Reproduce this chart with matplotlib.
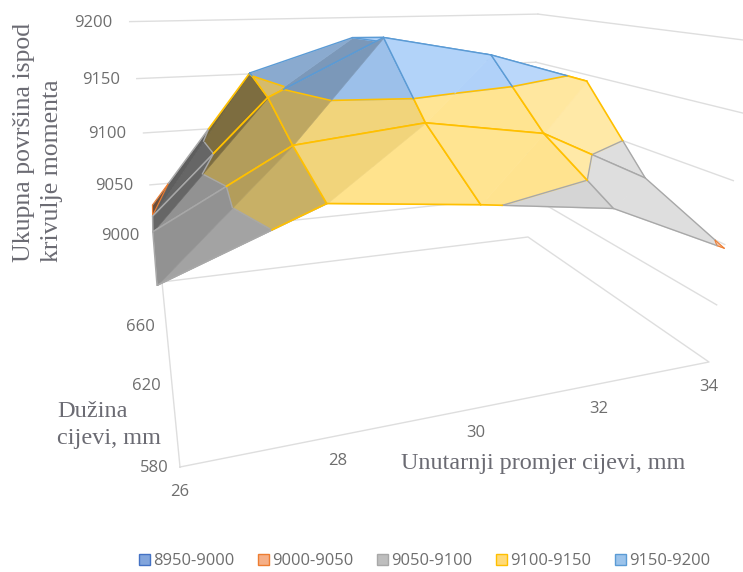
import numpy as np
import matplotlib
matplotlib.use("Agg")
import matplotlib.pyplot as plt
from matplotlib.patches import Patch
from mpl_toolkits.mplot3d.art3d import Poly3DCollection

diameters = [26, 28, 30, 32, 34]
lengths = [580, 620, 660, 700]
surface = [
    [9074, 9113, 9102, 9089, 9047],
    [9072, 9126, 9136, 9121, 9075],
    [9051, 9144, 9190, 9172, 9144],
    [9030, 9151, 9181, 9165, 9140],
]
levels = [8950, 9000, 9050, 9100, 9150, 9200]
band_labels = ["8950-9000", "9000-9050", "9050-9100", "9100-9150", "9150-9200"]
band_lines = ["#4472C4", "#ED7D31", "#A8A8A8", "#FFC000", "#5B9BD5"]
band_widths = [1.0, 0.8, 1.0, 1.2, 1.0]
band_fills = [(140, 170, 220), (240, 170, 130), (208, 208, 208), (255, 224, 130), (165, 203, 248)]
legend_fills = [(130, 165, 220), (245, 175, 135), (190, 190, 190), (255, 218, 120), (155, 195, 235)]
z_ticks = [9000, 9050, 9100, 9150, 9200]
x_ticks = [26, 28, 30, 32, 34]
y_ticks = [580, 620, 660]

W_PX, H_PX = 743, 572
GRID = "#DEDEDE"
TICK = "#6E6E6E"
TITLE = "#6B6B73"
tick_font = "Open Sans"
title_font = "Liberation Serif"

fig = plt.figure(figsize=(W_PX / 100, H_PX / 100), dpi=100)
ax = fig.add_axes([0, 0, 1, 1], projection="3d", computed_zorder=False)
ax.set_axis_off()

# camera: floor corners on the page and the vanishing point of the vertical axis
A, B, C, D = (180, 467), (709, 362), (528, 237), (162, 282)
VP = (430, 2441)
S = -0.17
dx1, dx2, sx = B[0] - C[0], D[0] - C[0], A[0] - B[0] + C[0] - D[0]
dy1, dy2, sy = B[1] - C[1], D[1] - C[1], A[1] - B[1] + C[1] - D[1]
det = dx1 * dy2 - dx2 * dy1
g = (sx * dy2 - dx2 * sy) / det
h = (dx1 * sy - sx * dy1) / det
CAM = np.array([
    [B[0] * (1 + g) - A[0], D[0] * (1 + h) - A[0], S * VP[0], A[0]],
    [B[1] * (1 + g) - A[1], D[1] * (1 + h) - A[1], S * VP[1], A[1]],
    [0, 1, 0, -2],
    [g, h, S, 1],
], dtype=float)
x0, x1 = diameters[0], diameters[-1]
y0, y1 = lengths[0], lengths[-1]
z0, z1 = levels[0], levels[-1]
UNIT = np.array([
    [1 / (x1 - x0), 0, 0, -x0 / (x1 - x0)],
    [0, 1 / (y1 - y0), 0, -y0 / (y1 - y0)],
    [0, 0, 1 / (z1 - z0), -z0 / (z1 - z0)],
    [0, 0, 0, 1],
])


def page_proj():
    vx0, vx1 = ax.viewLim.intervalx
    vy0, vy1 = ax.viewLim.intervaly
    page = np.array([
        [(vx1 - vx0) / W_PX, 0, 0, vx0],
        [0, -(vy1 - vy0) / H_PX, 0, vy1],
        [0, 0, 1, 0],
        [0, 0, 0, 1],
    ])
    return page @ CAM @ UNIT


def page_xy(x, y, z):
    v = CAM @ UNIT @ np.array([x, y, z, 1.0])
    return v[0] / v[3], v[1] / v[3]


ax.get_proj = page_proj
ax.apply_aspect = lambda position=None: None
ax.set_xlim(x0, x1)
ax.set_ylim(y0, y1)
ax.set_zlim(z0, z1)

# walls and floor
for z in z_ticks:
    ax.plot([x0, x1], [y1, y1], [z, z], color=GRID, lw=1.0, zorder=1)
    ax.plot([x1, x1], [y1, y0], [z, z], color=GRID, lw=1.0, zorder=1)
ax.plot([x0, x1, x1, x0, x0], [y0, y0, y1, y1, y0], [z0] * 5, color=GRID, lw=1.0, zorder=1)


def clip(poly, level, keep_above):
    out = []
    for i, p in enumerate(poly):
        q = poly[(i + 1) % len(poly)]
        a = p[2] - level if keep_above else level - p[2]
        b = q[2] - level if keep_above else level - q[2]
        if a >= 0:
            out.append(p)
        if a * b < 0:
            t = a / (a - b)
            out.append(tuple(p[k] + t * (q[k] - p[k]) for k in range(3)))
    return out


def shaded(rgb, slope):
    b = float(np.clip(1 - 0.0055 * slope, 0.45, 1.2))
    c = np.array(rgb) / 255
    return tuple(c * b) if b < 1 else tuple(c + (1 - c) * (b - 1) * 1.5)


def draw_edge(p, q, order):
    for k in range(len(levels) - 1):
        lo, hi = levels[k], levels[k + 1]
        a, b = (p, q) if p[2] <= q[2] else (q, p)
        if b[2] <= lo or a[2] >= hi:
            continue
        ends = []
        for lev in (max(lo, a[2]), min(hi, b[2])):
            t = 0 if b[2] == a[2] else (lev - a[2]) / (b[2] - a[2])
            ends.append([a[m] + t * (b[m] - a[m]) for m in range(3)])
        xs, ys, zs = zip(*ends)
        ax.plot(xs, ys, zs, color=band_lines[k], lw=band_widths[k], zorder=order, solid_capstyle="round")


order = 10
for j in range(len(lengths) - 2, -1, -1):
    for i in range(len(diameters) - 1):
        def P(ii, jj):
            return (diameters[ii], lengths[jj], surface[jj][ii])
        tris = [
            ([P(i, j), P(i + 1, j), P(i + 1, j + 1)], surface[j][i + 1] - surface[j][i]),
            ([P(i, j), P(i + 1, j + 1), P(i, j + 1)], surface[j + 1][i + 1] - surface[j + 1][i]),
        ]
        for tri, slope in tris:
            for k in range(len(levels) - 1):
                poly = clip(clip(tri, levels[k], True), levels[k + 1], False)
                if len(poly) < 3:
                    continue
                col = shaded(band_fills[k], slope)
                pc = Poly3DCollection([poly], facecolors=[col], edgecolors=[col], linewidths=0.4)
                pc.set_zorder(order)
                ax.add_collection3d(pc, autolim=False)
                order += 1
            for k in range(1, len(levels) - 1):
                lev = levels[k]
                seg = []
                for m in range(3):
                    p, q = tri[m], tri[(m + 1) % 3]
                    if (p[2] - lev) * (q[2] - lev) < 0:
                        t = (lev - p[2]) / (q[2] - p[2])
                        seg.append([p[n] + t * (q[n] - p[n]) for n in range(3)])
                if len(seg) == 2:
                    xs, ys, zs = zip(*seg)
                    ax.plot(xs, ys, zs, color=band_lines[k - 1], lw=band_widths[k - 1], zorder=order)
                    order += 1
        for p, q in [(P(i, j), P(i + 1, j)), (P(i + 1, j), P(i + 1, j + 1)),
                     (P(i + 1, j + 1), P(i, j + 1)), (P(i, j + 1), P(i, j))]:
            draw_edge(p, q, order)
            order += 1


def tick_label(x, y, z, text, dx, dy, ha):
    px, py = page_xy(x, y, z)
    fig.text((px + dx) / W_PX, 1 - (py + dy) / H_PX, text, color=TICK, fontsize=12,
             family=tick_font, ha=ha, va="center")


for z in z_ticks:
    tick_label(x0, y1, z, str(z), -17, 1, "right")
for x in x_ticks:
    tick_label(x, y0, z0, str(x), 0, 25, "center")
for y in y_ticks:
    tick_label(x0, y, z0, str(y), -26, 1, "center")

title_kw = dict(color=TITLE, family=title_font)
fig.text(38 / W_PX, 1 - 142 / H_PX, "Ukupna površina ispod\nkrivulje momenta", rotation=90,
         ha="center", va="center", multialignment="left", fontsize=18.5, linespacing=1.4, **title_kw)
fig.text(57 / W_PX, 1 - 425 / H_PX, "Dužina\ncijevi, mm", ha="left", va="center",
         multialignment="left", fontsize=17.5, linespacing=1.35, **title_kw)
fig.text(401 / W_PX, 1 - 463 / H_PX, "Unutarnji promjer cijevi, mm", ha="left", va="center",
         fontsize=17.4, **title_kw)

handles = [Patch(facecolor=np.array(f) / 255, edgecolor=e, lw=1, label=l)
           for f, e, l in zip(legend_fills, band_lines, band_labels)]
fig.legend(handles=handles, ncol=5, loc="center", bbox_to_anchor=(424.5 / W_PX, 1 - 561 / H_PX),
           frameon=False, borderpad=0, handlelength=0.67, handleheight=0.67, handletextpad=0.2,
           columnspacing=1.42, prop={"family": tick_font, "size": 11.9}, labelcolor=TICK)

fig.savefig("out.png", dpi=100)
